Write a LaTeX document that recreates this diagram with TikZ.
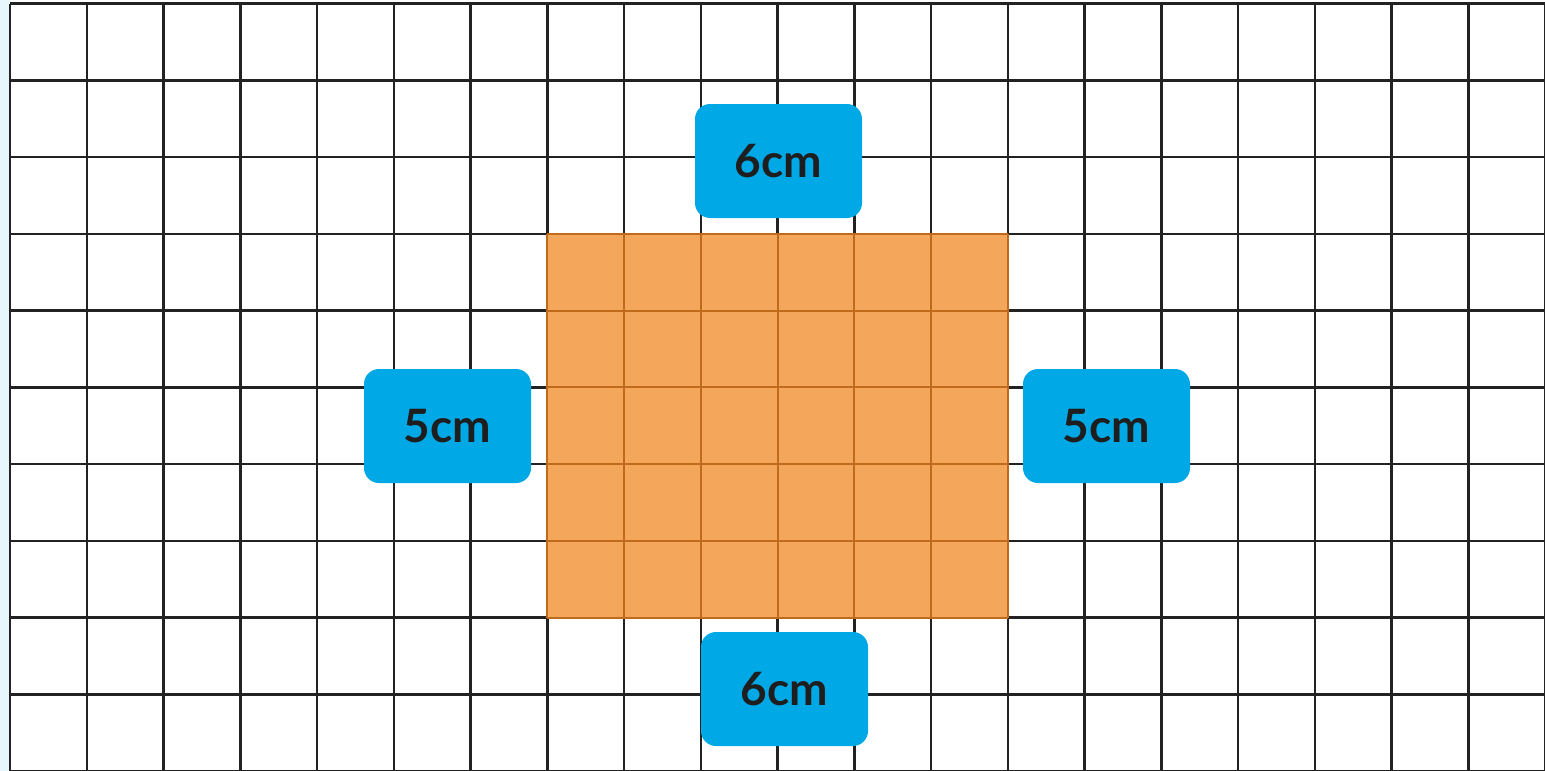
\documentclass[tikz,border=0pt]{standalone}
\usepackage{fontspec}
\setmainfont{Lato}
\definecolor{gridc}{HTML}{222222}
\definecolor{orfill}{HTML}{F4A65A}
\definecolor{orline}{HTML}{C06A1C}
\definecolor{lblue}{HTML}{00A8E6}
\definecolor{stripc}{HTML}{E6F6FC}
\definecolor{txtc}{HTML}{1E1E1E}
\tikzset{
  lbl/.style={fill=lblue, rounded corners=15pt, minimum width=167pt, minimum height=114pt, inner sep=0pt,
    text=txtc, font=\fontsize{46}{46}\selectfont\bfseries},
}
\begin{document}
\begin{tikzpicture}[x=1pt,y=-1pt]
\useasboundingbox (0,0) rectangle (1545,771);
\fill[white] (0,0) rectangle (1545,771);
\fill[stripc] (0,0) rectangle (10,771);
% grid
\foreach \i in {0,...,20} {
  \draw[gridc, line width=2.5pt] ({10+\i*76.75},3.5) -- ({10+\i*76.75},771);
}
\foreach \j in {0,...,10} {
  \draw[gridc, line width=2.5pt] (10,{3.5+\j*76.75}) -- (1545,{3.5+\j*76.75});
}
% orange rectangle
\fill[orfill] (547.25,233.75) rectangle (1007.75,617.5);
\foreach \i in {0,...,6} {
  \draw[orline, line width=2pt] ({547.25+\i*76.75},233.75) -- ({547.25+\i*76.75},617.5);
}
\foreach \j in {0,...,5} {
  \draw[orline, line width=2pt] (547.25,{233.75+\j*76.75}) -- (1007.75,{233.75+\j*76.75});
}
% labels
\node[lbl] (top) at (778.5,161) {6cm};
\node[lbl] (left) at (447.5,426) {5cm};
\node[lbl] (right) at (1106.5,426) {5cm};
\node[lbl] (bottom) at (784.5,689) {6cm};
\end{tikzpicture}
\end{document}
